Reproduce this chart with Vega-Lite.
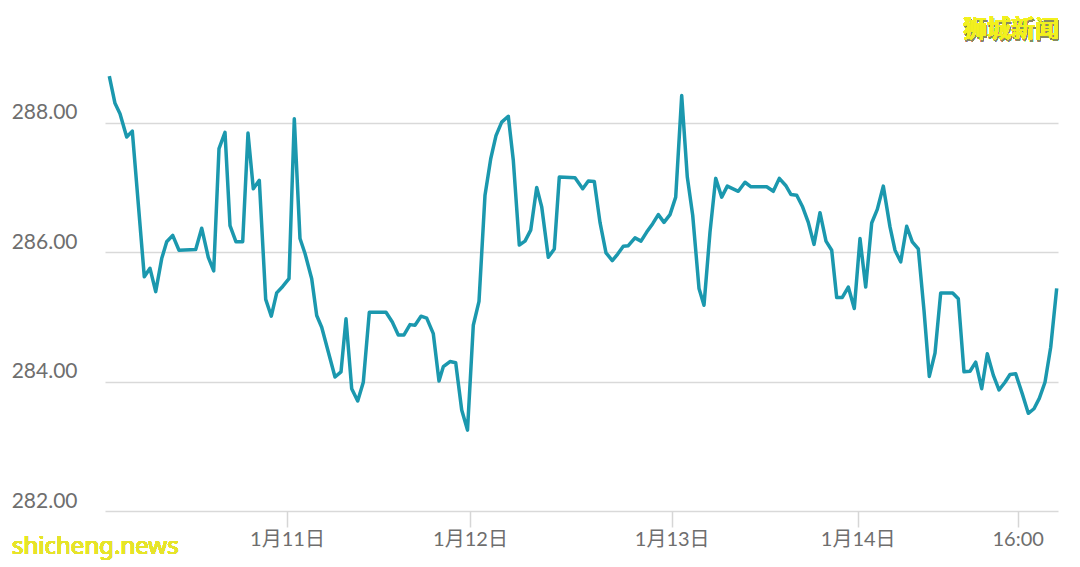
{
  "$schema": "https://vega.github.io/schema/vega-lite/v6.json",
  "autosize": "none",
  "width": 953,
  "height": 453,
  "padding": {"left": 105, "top": 58, "right": 22, "bottom": 56},
  "background": "white",
  "config": {"view": {"stroke": null}},
  "data": {"values": [
    {"t":0.43,"v":288.72},{"t":1.0,"v":288.30},{"t":1.5,"v":288.14},{"t":2.17,"v":287.78},{"t":2.73,"v":287.87},
    {"t":3.93,"v":285.62},{"t":4.5,"v":285.75},{"t":5.07,"v":285.39},{"t":5.67,"v":285.90},{"t":6.17,"v":286.16},
    {"t":6.77,"v":286.26},{"t":7.4,"v":286.03},{"t":9.07,"v":286.04},{"t":9.67,"v":286.37},{"t":10.33,"v":285.92},
    {"t":10.87,"v":285.71},{"t":11.4,"v":287.60},{"t":12.0,"v":287.85},{"t":12.5,"v":286.41},{"t":13.1,"v":286.16},
    {"t":13.77,"v":286.16},{"t":14.3,"v":287.84},{"t":14.83,"v":286.98},{"t":15.43,"v":287.11},{"t":16.07,"v":285.27},
    {"t":16.63,"v":285.01},{"t":17.17,"v":285.37},{"t":17.77,"v":285.47},{"t":18.4,"v":285.59},{"t":18.93,"v":288.06},
    {"t":19.5,"v":286.21},{"t":20.0,"v":285.98},{"t":20.67,"v":285.59},{"t":21.17,"v":285.02},{"t":21.67,"v":284.84},
    {"t":23.0,"v":284.07},{"t":23.6,"v":284.15},{"t":24.1,"v":284.97},{"t":24.67,"v":283.89},{"t":25.27,"v":283.70},
    {"t":25.83,"v":283.99},{"t":26.43,"v":285.07},{"t":28.1,"v":285.07},{"t":28.73,"v":284.92},{"t":29.33,"v":284.72},
    {"t":29.9,"v":284.72},{"t":30.5,"v":284.88},{"t":31.0,"v":284.87},{"t":31.6,"v":285.01},{"t":32.17,"v":284.98},
    {"t":32.83,"v":284.74},{"t":33.4,"v":284.01},{"t":33.83,"v":284.23},{"t":34.5,"v":284.31},{"t":35.07,"v":284.29},
    {"t":35.67,"v":283.56},{"t":36.25,"v":283.25},{"t":36.83,"v":284.87},{"t":37.4,"v":285.24},{"t":38.0,"v":286.88},
    {"t":38.57,"v":287.44},{"t":39.1,"v":287.80},{"t":39.67,"v":288.01},{"t":40.33,"v":288.10},{"t":40.83,"v":287.42},
    {"t":41.43,"v":286.11},{"t":42.0,"v":286.17},{"t":42.57,"v":286.34},{"t":43.17,"v":287.00},{"t":43.67,"v":286.70},
    {"t":44.33,"v":285.92},{"t":44.93,"v":286.05},{"t":45.43,"v":287.16},{"t":47.0,"v":287.15},{"t":47.77,"v":286.98},
    {"t":48.33,"v":287.10},{"t":48.93,"v":287.09},{"t":49.5,"v":286.46},{"t":50.1,"v":285.99},{"t":50.73,"v":285.87},
    {"t":51.27,"v":285.97},{"t":51.83,"v":286.09},{"t":52.33,"v":286.10},{"t":53.0,"v":286.22},{"t":53.6,"v":286.17},
    {"t":54.17,"v":286.31},{"t":54.77,"v":286.44},{"t":55.33,"v":286.58},{"t":55.9,"v":286.46},{"t":56.5,"v":286.58},
    {"t":57.07,"v":286.85},{"t":57.67,"v":288.42},{"t":58.23,"v":287.16},{"t":58.77,"v":286.57},{"t":59.4,"v":285.44},
    {"t":59.9,"v":285.18},{"t":60.5,"v":286.31},{"t":61.07,"v":287.14},{"t":61.67,"v":286.85},{"t":62.23,"v":287.02},
    {"t":63.33,"v":286.94},{"t":64.0,"v":287.08},{"t":64.6,"v":287.01},{"t":66.17,"v":287.01},{"t":66.83,"v":286.94},
    {"t":67.43,"v":287.14},{"t":68.07,"v":287.03},{"t":68.6,"v":286.89},{"t":69.17,"v":286.88},{"t":69.73,"v":286.71},
    {"t":70.33,"v":286.46},{"t":70.9,"v":286.12},{"t":71.5,"v":286.61},{"t":72.1,"v":286.17},{"t":72.67,"v":286.03},
    {"t":73.17,"v":285.30},{"t":73.73,"v":285.30},{"t":74.33,"v":285.46},{"t":74.93,"v":285.13},{"t":75.5,"v":286.21},
    {"t":76.07,"v":285.46},{"t":76.67,"v":286.45},{"t":77.23,"v":286.66},{"t":77.83,"v":287.02},{"t":78.5,"v":286.39},
    {"t":79.0,"v":286.03},{"t":79.57,"v":285.85},{"t":80.17,"v":286.40},{"t":80.73,"v":286.16},{"t":81.33,"v":286.05},
    {"t":81.9,"v":285.10},{"t":82.43,"v":284.08},{"t":83.0,"v":284.44},{"t":83.57,"v":285.37},{"t":84.77,"v":285.37},
    {"t":85.33,"v":285.28},{"t":85.9,"v":284.15},{"t":86.5,"v":284.16},{"t":87.07,"v":284.30},{"t":87.67,"v":283.89},
    {"t":88.23,"v":284.43},{"t":88.83,"v":284.10},{"t":89.4,"v":283.87},{"t":90.0,"v":283.99},{"t":90.5,"v":284.11},
    {"t":91.07,"v":284.12},{"t":91.73,"v":283.81},{"t":92.33,"v":283.51},{"t":92.9,"v":283.58},{"t":93.43,"v":283.74},
    {"t":94.0,"v":283.99},{"t":94.57,"v":284.53},{"t":95.17,"v":285.44}
  ]},
  "layer": [
    {
      "mark": {"type": "line", "color": "#1b98ae", "strokeWidth": 3.5, "strokeJoin": "round"},
      "encoding": {
        "x": {
          "field": "t", "type": "quantitative",
          "scale": {"domain": [0, 95.3], "nice": false, "zero": false},
          "axis": {
            "title": null, "grid": false, "domain": false,
            "values": [18.2, 36.5, 56.67, 75.27, 91.27],
            "labelExpr": "datum.value < 20 ? '1月11日' : datum.value < 40 ? '1月12日' : datum.value < 60 ? '1月13日' : datum.value < 80 ? '1月14日' : '16:00'",
            "ticks": true, "tickSize": 16, "tickColor": "#d6d6d6", "tickWidth": 1.5,
            "labelPadding": 2, "labelFont": "Lato, Noto Sans CJK SC", "labelFontSize": 20,
            "labelColor": "#6e6e6e", "labelBaseline": "top", "labelFlush": false
          }
        },
        "y": {
          "field": "v", "type": "quantitative",
          "scale": {"domain": [282, 289], "nice": false, "zero": false},
          "axis": {
            "title": null, "domain": false, "ticks": false, "tickSize": 0,
            "values": [282, 284, 286, 288], "format": ".2f",
            "grid": true, "gridColor": "#d9d9d9", "gridWidth": 1.5,
            "labelPadding": 28, "labelFont": "Lato", "labelFontSize": 21,
            "labelColor": "#6e6e6e", "labelBaseline": "alphabetic", "labelOffset": -4
          }
        }
      }
    },
    {
      "mark": {"type": "text", "text": "狮城新闻", "font": "Noto Sans CJK SC", "fontWeight": 500, "fontSize": 24, "color": "#8a8a60", "opacity": 0.7, "align": "center", "baseline": "middle", "dx": 1, "dy": 1.5},
      "encoding": {"x": {"datum": 90.6}, "y": {"datum": 289.43}}
    },
    {
      "mark": {"type": "text", "text": "狮城新闻", "font": "Noto Sans CJK SC", "fontWeight": 500, "fontSize": 24, "color": "#f2f01e", "align": "center", "baseline": "middle"},
      "encoding": {"x": {"datum": 90.6}, "y": {"datum": 289.43}}
    },
    {
      "mark": {"type": "text", "text": "shicheng.news", "font": "Noto Sans", "fontSize": 24, "color": "#e6e42a", "align": "left", "baseline": "middle"},
      "encoding": {"x": {"datum": -9.3}, "y": {"datum": 281.44}}
    }
  ]
}
